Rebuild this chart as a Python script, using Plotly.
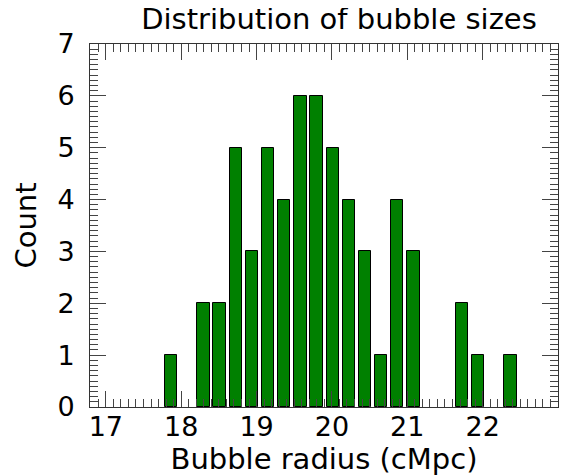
import plotly.graph_objects as go

# Histogram data
bin_left = 17.758
bin_width = 0.2145
counts = [1, 0, 2, 2, 5, 3, 5, 4, 6, 6, 5, 4, 3, 1, 4, 3, 0, 0, 2, 1, 0, 1]
x_ticks = [17, 18, 19, 20, 21, 22]
y_ticks = [0, 1, 2, 3, 4, 5, 6, 7]

centers = [bin_left + bin_width * (i + 0.5) for i in range(len(counts))]

FONT = "DejaVu Sans"
FS = 27
FT = 29

fig = go.Figure()
fig.add_trace(go.Bar(
    x=centers, y=counts, width=bin_width * 0.76,
    marker=dict(color="#008000",
                line=dict(color="black", width=[1 if c > 0 else 0 for c in counts])),
))

axis_common = dict(
    showline=True, linecolor="#333", linewidth=1, mirror="allticks",
    ticks="inside", tickcolor="#444", tickwidth=1, ticklen=16,
    showgrid=False, zeroline=False, layer="above traces", automargin=False,
    tickfont=dict(family=FONT, size=FS, color="black"),
)

fig.update_xaxes(
    range=[16.79, 23.0], tickmode="array", tickvals=x_ticks, ticklabelstandoff=-4,
    minor=dict(dtick=0.1, ticks="inside", ticklen=8, tickcolor="#444", tickwidth=1, showgrid=False),
    title=dict(text="Bubble radius (cMpc)", font=dict(family=FONT, size=FT, color="black"), standoff=0),
    **axis_common,
)
fig.update_yaxes(
    range=[0, 7], tickmode="array", tickvals=y_ticks, ticklabelstandoff=9,
    minor=dict(dtick=0.1, ticks="inside", ticklen=8, tickcolor="#444", tickwidth=1, showgrid=False),
    title=dict(text="Count", font=dict(family=FONT, size=FT, color="black"), standoff=12),
    **axis_common,
)

fig.update_layout(
    width=569, height=476,
    margin=dict(l=82, r=19, t=36, b=77),
    paper_bgcolor="white", plot_bgcolor="white",
    showlegend=False,
    title=dict(text="Distribution of bubble sizes", x=331 / 569, xanchor="center",
               y=1 - 11 / 476, yanchor="middle",
               font=dict(family=FONT, size=FT, color="black")),
    bargap=0,
)

fig.write_html("out.html")
